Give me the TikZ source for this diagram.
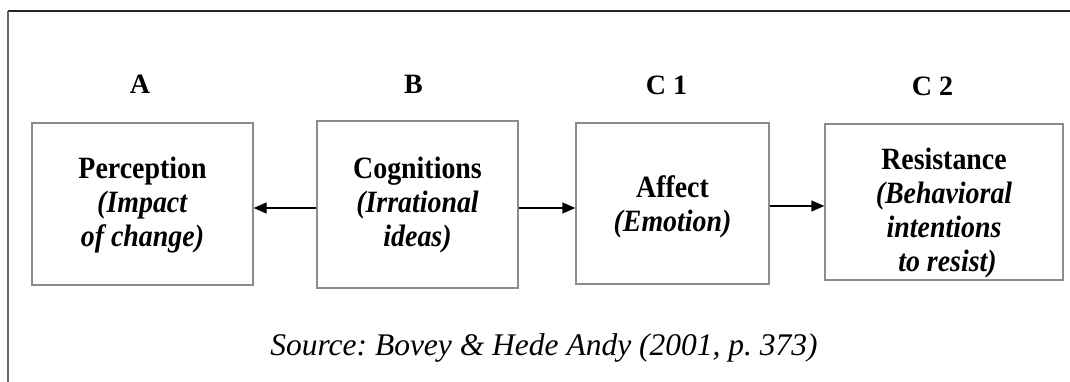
\documentclass[tikz,border=0pt]{standalone}
\usepackage{fontspec}
\setmainfont{Liberation Serif}
\usetikzlibrary{arrows.meta}
\frenchspacing
\begin{document}
\begin{tikzpicture}[x=1pt,y=-1pt,
  stagebox/.style={draw=black!45, line width=1.4pt, fill=white, inner sep=0pt,
    minimum width=#1},
  stagetext/.style={align=center, inner sep=0pt, anchor=north, xscale=0.9,
    font=\fontsize{31}{34}\selectfont\bfseries},
  steplabel/.style={anchor=base, inner sep=0pt, font=\fontsize{28}{30}\selectfont\bfseries},
  link/.style={line width=1.4pt, -{Triangle[length=13pt,width=11pt]}},
  frameline/.style={line width=1.5pt}]
\useasboundingbox (0,0) rectangle (1070,382);

% open frame: top and left edges only
\coordinate (ftl) at (8,11);
\coordinate (ftr) at (1070,11);
\coordinate (fbl) at (8,382);
\draw[frameline, draw=black!85] (ftl) -- (ftr);
\draw[frameline, draw=black!60] (ftl) -- (fbl);

% stage boxes
\node[stagebox=221pt, minimum height=162pt] (a)  at (142.5,204) {};
\node[stagebox=201pt, minimum height=167pt] (b)  at (417.5,204.5) {};
\node[stagebox=193pt, minimum height=161pt] (c1) at (672.5,203.5) {};
\node[stagebox=238pt, minimum height=156pt] (c2) at (944,202) {};

% stage texts
\node[stagetext] (ta)  at (142.5,156.5) {Perception\\\textit{(Impact}\\\textit{of change)}};
\node[stagetext] (tb)  at (417.5,156.5) {Cognitions\\\textit{(Irrational}\\\textit{ideas)}};
\node[stagetext] (tc1) at (672.5,175.5) {Affect\\\textit{(Emotion)}};
\node[stagetext] (tc2) at (944,147.5) {Resistance\\\textit{(Behavioral}\\\textit{intentions}\\\textit{\ to resist)}};

% stage letters
\node[steplabel] (la)  at (140,94) {A};
\node[steplabel] (lb)  at (413.5,94) {B};
\node[steplabel] (lc1) at (666.5,95) {C 1};
\node[steplabel] (lc2) at (932.5,96) {C 2};

% connectors
\draw[link] ([yshift=-3.5pt]b.west) -- ([yshift=-3.5pt]a.east |- b.west);
\draw[link] ([yshift=-3.5pt]b.east) -- ([yshift=-3.5pt]c1.west |- b.east);
\draw[link] ([yshift=-2.5pt]c1.east) -- ([yshift=-2.5pt]c2.west |- c1.east);

% source line
\node[anchor=base, inner sep=0pt, font=\fontsize{31.5}{34}\selectfont\itshape] (src)
  at (544,355) {Source: Bovey \& Hede Andy (2001, p. 373)};
\end{tikzpicture}
\end{document}
